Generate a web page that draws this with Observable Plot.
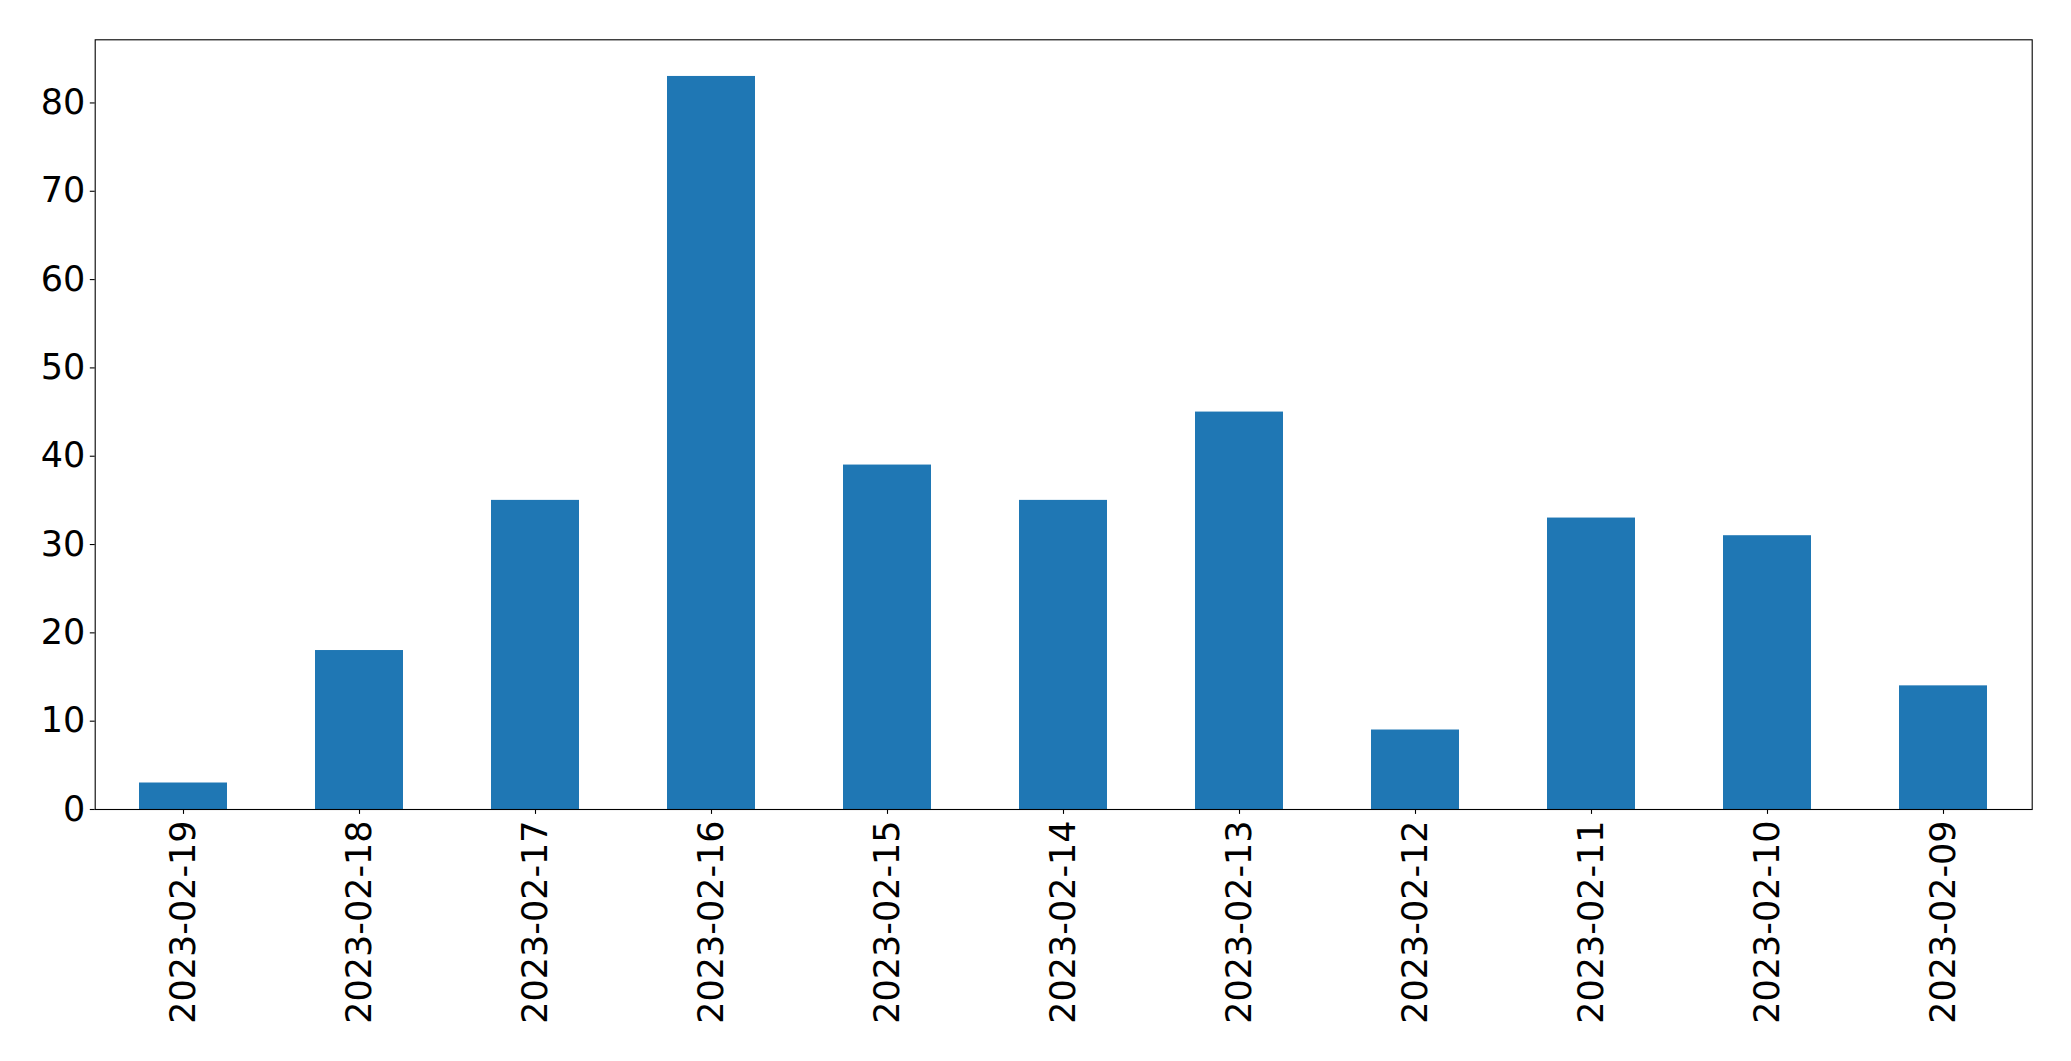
<!DOCTYPE html>
<html>
<head>
<meta charset="utf-8">
<script src="https://cdn.jsdelivr.net/npm/d3@7"></script>
<script src="https://cdn.jsdelivr.net/npm/@observablehq/plot@0.6"></script>
<style>
  html, body { margin: 0; padding: 0; background: #fff; }
  #chart svg { display: block; }
</style>
</head>
<body>
<div id="chart"></div>
<script>
const dates = ["2023-02-19","2023-02-18","2023-02-17","2023-02-16","2023-02-15","2023-02-14","2023-02-13","2023-02-12","2023-02-11","2023-02-10","2023-02-09"];
const counts = [3, 18, 35, 83, 39, 35, 45, 9, 33, 31, 14];
const yTicks = [0, 10, 20, 30, 40, 50, 60, 70, 80];

const data = dates.map((d, i) => ({date: d, count: counts[i]}));
const yMax = d3.max(counts) * 1.05;

const chart = Plot.plot({
  width: 2071,
  height: 1061,
  marginLeft: 94.7,
  marginRight: 39.3,
  marginTop: 39.3,
  marginBottom: 252,
  style: {fontFamily: "DejaVu Sans", fontSize: "35px", color: "black", background: "white", overflow: "visible"},
  x: {domain: dates, paddingInner: 0.5, paddingOuter: 0.25, label: null},
  y: {domain: [0, yMax], label: null},
  marks: [
    Plot.barY(data, {x: "date", y: "count", fill: "#1f77b4"}),
    Plot.axisY({ticks: yTicks, tickSize: 4.9, tickPadding: 4.9, fontSize: 35, label: null, strokeWidth: 1.1}),
    Plot.axisX({tickSize: 4.9, tickPadding: 6, tickRotate: -90, fontSize: 35, label: null, strokeWidth: 1.1}),
    Plot.frame({stroke: "black", strokeWidth: 1.1})
  ]
});
document.getElementById("chart").appendChild(chart);
</script>
</body>
</html>
